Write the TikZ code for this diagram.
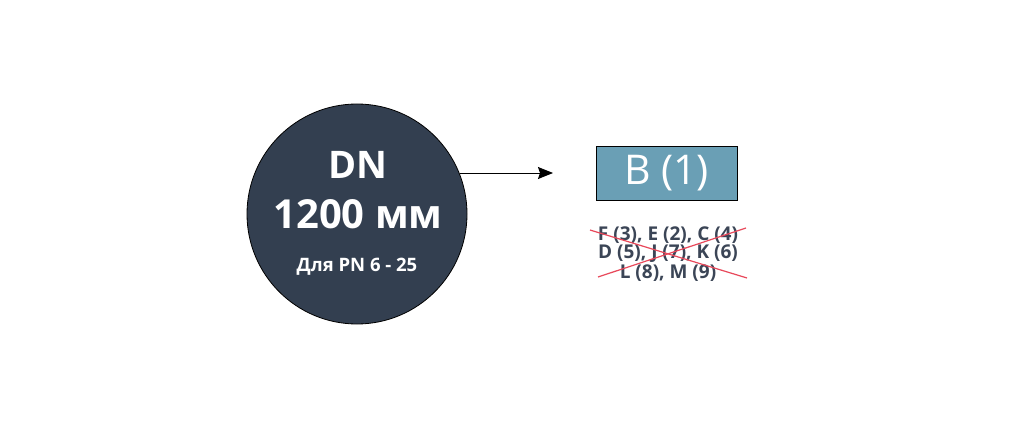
\documentclass[tikz,border=0pt]{standalone}
\usepackage{fontspec}
\setmainfont{Open Sans}
\usetikzlibrary{arrows.meta}
\definecolor{circfill}{HTML}{333F50}
\definecolor{boxfill}{HTML}{6A9FB5}
\definecolor{listtext}{HTML}{3B4556}
\definecolor{crossred}{HTML}{E8485A}
\tikzset{
  x=1pt, y=-1pt,
  bigtext/.style={text=white, font=\bfseries\fontsize{40}{44}\selectfont, inner sep=0pt},
  listline/.style={text=listtext, font=\bfseries\fontsize{19}{20}\selectfont, inner sep=0pt},
  cross/.style={draw=crossred, line width=1.2pt}
}
\begin{document}
\begin{tikzpicture}
\useasboundingbox[fill=white] (0,0) rectangle (1024,441);
\node[circle, draw=black, line width=0.8pt, fill=circfill, minimum size=220pt, inner sep=0pt] (c) at (357,214) {};
\node[bigtext, font=\bfseries\fontsize{38}{44}\selectfont] (dn) at (358,165) {DN};
\node[bigtext] (mm) at (358,214) {1200 мм};
\node[text=white, font=\bfseries\fontsize{18.5}{20}\selectfont, inner sep=0pt] (pn) at (357,267) {Для PN 6 - 25};
\node[draw=black, line width=1pt, fill=boxfill, minimum width=141pt, minimum height=54pt, inner sep=0pt,
      text=white, font=\fontsize{41}{44}\selectfont] (b) at (666.5,173) {B (1)};
\coordinate (tip) at (553,173);
\draw[line width=1pt, -{Stealth[length=15pt,width=12pt,inset=2pt]}] (c.21.9 |- tip) -- (tip);
\node[listline] (l1) at (668,235) {F (3), E (2), C (4)};
\node[listline] (l2) at (668,254) {D (5), J (7), K (6)};
\node[listline] (l3) at (668,273) {L (8), M (9)};
\coordinate (x1) at (590,230);
\coordinate (x2) at (747,278);
\coordinate (x3) at (598,277);
\coordinate (x4) at (746,228);
\draw[cross] (x1) -- (x2);
\draw[cross] (x3) -- (x4);
\end{tikzpicture}
\end{document}
